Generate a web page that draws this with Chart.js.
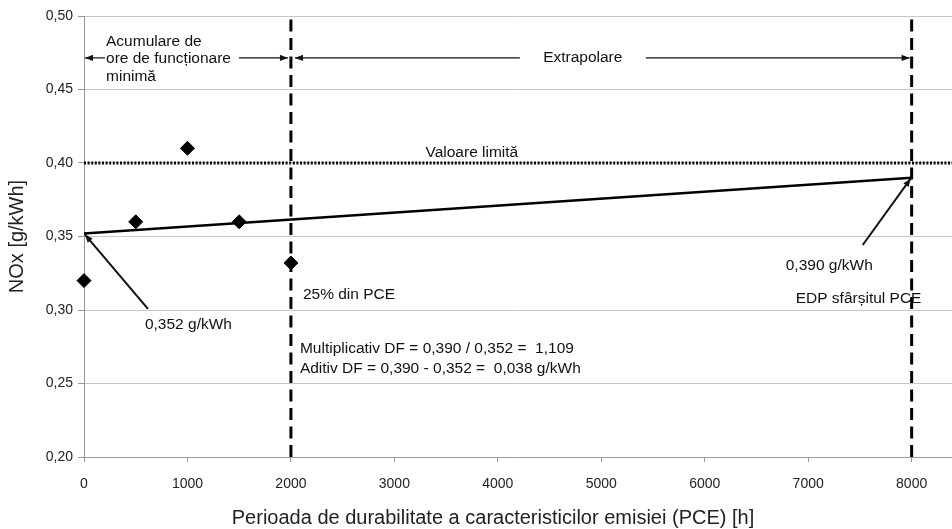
<!DOCTYPE html>
<html>
<head>
<meta charset="utf-8">
<script src="https://cdn.jsdelivr.net/npm/chart.js@4.4.1/dist/chart.umd.min.js"></script>
<style>
  html, body { margin: 0; padding: 0; background: #fff; overflow: hidden; }
  #wrap { width: 952px; height: 529px; overflow: hidden; }
  #chart { display: block; }
</style>
</head>
<body>
<div id="wrap"><canvas id="chart" width="960" height="529"></canvas></div>
<script>
// valori
const oreMasurate = [0, 500, 1000, 1500, 2000];
const noxMasurat = [0.320, 0.360, 0.410, 0.360, 0.332];

const oreDreapta = [0, 8000];
const noxDreapta = [0.352, 0.390];

const valoareLimita = 0.40;
const oreLimite = [2000, 8000];   // 25% din PCE, sfarsitul PCE

const xTickValues = [0, 1000, 2000, 3000, 4000, 5000, 6000, 7000, 8000];
const yTickLabels = ['0,20', '0,25', '0,30', '0,35', '0,40', '0,45', '0,50'];

const FONT = '"Liberation Sans", Arial, sans-serif';
const X_MAX = 8390;

const ctx = document.getElementById('chart').getContext('2d');

function pts(xs, ys) {
    return xs.map((x, i) => ({ x: x, y: ys[i] }));
}

// sageata cu varf plin
function arrow(c, x1, y1, x2, y2) {
    c.beginPath();
    c.moveTo(x1, y1);
    c.lineTo(x2, y2);
    c.stroke();
    const a = Math.atan2(y2 - y1, x2 - x1);
    const L = 8, W = 3.2;
    c.beginPath();
    c.moveTo(x2, y2);
    c.lineTo(x2 - L * Math.cos(a) + W * Math.sin(a), y2 - L * Math.sin(a) - W * Math.cos(a));
    c.lineTo(x2 - L * Math.cos(a) - W * Math.sin(a), y2 - L * Math.sin(a) + W * Math.cos(a));
    c.closePath();
    c.fill();
}

const adnotari = {
    id: 'adnotari',
    afterDraw(chart) {
        const c = chart.ctx;
        const xs = chart.scales.x, ys = chart.scales.y;
        const px = v => xs.getPixelForValue(v);
        const py = v => ys.getPixelForValue(v);
        c.save();
        c.fillStyle = '#111';
        c.strokeStyle = '#111';
        c.font = '15.5px ' + FONT;
        c.textBaseline = 'middle';
        c.textAlign = 'left';

        // textul din stanga sus
        c.fillText('Acumulare de', px(213), py(0.4823));
        c.fillText('ore de funcționare', px(213), py(0.4707));
        c.fillText('minimă', px(213), py(0.4585));

        const yr = py(0.4715);
        c.lineWidth = 1.2;
        arrow(c, px(203), yr, px(0) + 1, yr);
        arrow(c, px(1498), yr, px(2000) - 3, yr);
        arrow(c, px(4213), yr, px(2000) + 4, yr);
        arrow(c, px(5430), yr, px(8000) - 2, yr);
        c.textAlign = 'center';
        c.fillText('Extrapolare', px(4821), yr);
        c.fillText('Valoare limită', px(3749), py(0.4068));

        c.textAlign = 'left';
        c.fillText('25% din PCE', px(2116), py(0.3102));
        c.fillText('Multiplicativ DF = 0,390 / 0,352 =  1,109', px(2087), py(0.2735));
        c.fillText('Aditiv DF = 0,390 - 0,352 =  0,038 g/kWh', px(2087), py(0.2599));
        c.fillText('EDP sfârșitul PCE', px(6879), py(0.3075));
        c.fillText('0,390 g/kWh', px(6783), py(0.330));
        c.fillText('0,352 g/kWh', px(589), py(0.2898));

        c.lineWidth = 2;
        arrow(c, px(7527), py(0.3442), px(8000) - 1, py(0.390) + 1);
        arrow(c, px(618), py(0.3007), px(0) + 1, py(0.352) + 1);

        // titlul axei x
        c.font = '20px ' + FONT;
        c.fillStyle = '#222';
        c.textAlign = 'center';
        c.fillText('Perioada de durabilitate a caracteristicilor emisiei (PCE) [h]', chart.chartArea.left + 409, 518);
        c.restore();
    }
};

const myChart = new Chart(ctx, {
    type: 'scatter',
    data: {
        datasets: [
            {
                label: 'NOx',
                data: pts(oreMasurate, noxMasurat),
                pointStyle: 'rectRot',
                pointRadius: 7,
                pointBackgroundColor: '#000',
                pointBorderColor: '#000',
                pointBorderWidth: 1,
                clip: false,
                order: 0
            },
            {
                type: 'line',
                label: 'Dreapta',
                data: pts(oreDreapta, noxDreapta),
                borderColor: '#000',
                borderWidth: 2.5,
                pointRadius: 0,
                fill: false,
                order: 1
            },
            {
                type: 'line',
                label: 'Valoare limită',
                data: [{ x: 0, y: valoareLimita }, { x: X_MAX, y: valoareLimita }],
                borderColor: '#000',
                borderWidth: 3,
                borderDash: [2, 1.6],
                pointRadius: 0,
                fill: false,
                order: 2
            },
            ...oreLimite.map(h => ({
                type: 'line',
                label: 'PCE ' + h,
                data: [{ x: h, y: 0.20 }, { x: h, y: 0.50 }],
                borderColor: '#000',
                borderWidth: 3,
                borderDash: [12, 6.5],
                pointRadius: 0,
                fill: false,
                clip: false,
                order: 3
            }))
        ]
    },
    options: {
        responsive: false,
        animation: false,
        layout: { padding: { top: 16, right: 0, left: 0, bottom: 0 } },
        plugins: {
            legend: { display: false },
            tooltip: { enabled: false }
        },
        scales: {
            x: {
                type: 'linear',
                min: 0,
                max: X_MAX,
                afterBuildTicks(scale) { scale.ticks = xTickValues.map(v => ({ value: v })); },
                afterFit(scale) {
                    scale.height = 72;
                    scale.paddingLeft = 0;
                    scale.paddingRight = 0;
                },
                border: { color: '#999', width: 1 },
                grid: { drawOnChartArea: false, tickColor: '#999', tickLength: 5 },
                ticks: {
                    padding: 14,
                    color: '#222',
                    font: { family: FONT, size: 14 },
                    maxRotation: 0,
                    autoSkip: false,
                    callback: v => String(v)
                }
            },
            y: {
                min: 0.20,
                max: 0.50,
                afterFit(scale) { scale.width = 84; },
                border: { color: '#999', width: 1 },
                grid: { color: '#c8c8c8', lineWidth: 1, tickColor: '#999', tickLength: 6 },
                ticks: {
                    stepSize: 0.05,
                    padding: 5,
                    color: '#222',
                    font: { family: FONT, size: 14 },
                    callback: (v, i) => yTickLabels[i]
                },
                title: {
                    display: true,
                    text: 'NOx [g/kWh]',
                    color: '#222',
                    font: { family: FONT, size: 20 },
                    padding: { top: 5, bottom: 0 }
                }
            }
        }
    },
    plugins: [adnotari]
});
</script>
</body>
</html>
